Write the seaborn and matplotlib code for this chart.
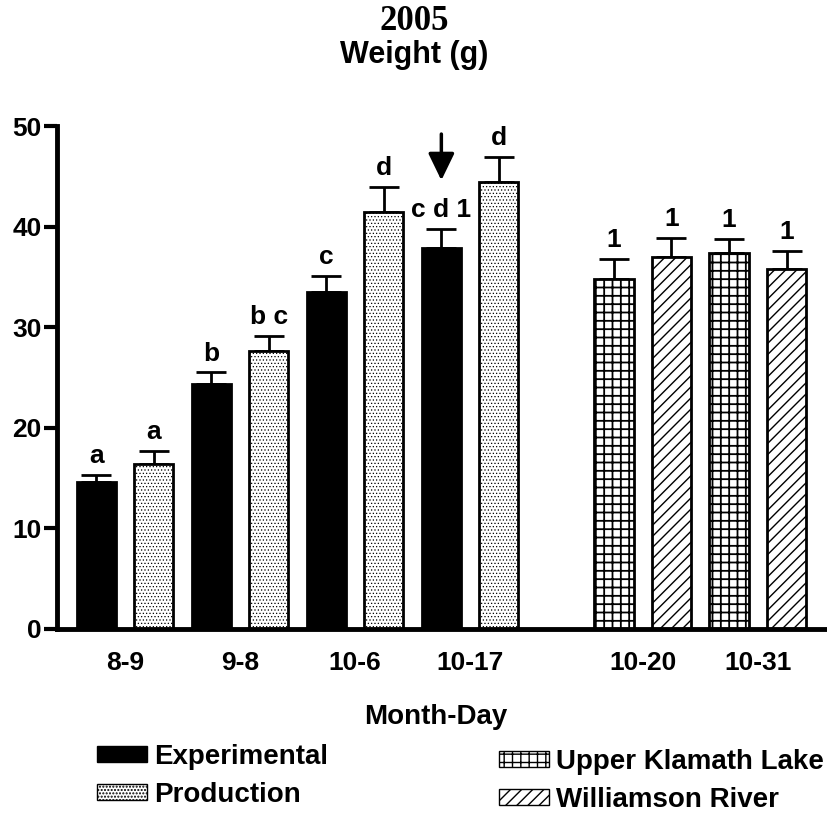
import numpy as np
import pandas as pd
import seaborn as sns
import matplotlib.pyplot as plt
import matplotlib.patches as mpatches

# bar data (mean weight in g and SE)
bar_date = ['8-9', '8-9', '9-8', '9-8', '10-6', '10-6', '10-17', '10-17',
            '10-20', '10-20', '10-31', '10-31']
bar_group = ['Experimental', 'Production'] * 4 + ['Upper Klamath Lake', 'Williamson River'] * 2
weight_mean = [14.6, 16.4, 24.4, 27.6, 33.5, 41.5, 37.9, 44.4, 34.8, 37.0, 37.4, 35.8]
weight_se = [0.7, 1.3, 1.1, 1.5, 1.6, 2.4, 1.9, 2.5, 2.0, 1.9, 1.4, 1.8]
sig_letters = ['a', 'a', 'b', 'b c', 'c', 'd', 'c d 1', 'd', '1', '1', '1', '1']
date_labels = ['8-9', '9-8', '10-6', '10-17', '10-20', '10-31']
y_ticks = [0, 10, 20, 30, 40, 50]

groups = ['Experimental', 'Production', 'Upper Klamath Lake', 'Williamson River']
face = {'Experimental': 'black', 'Production': 'white',
        'Upper Klamath Lake': 'white', 'Williamson River': 'white'}
hatch = {'Experimental': None, 'Production': '.....',
         'Upper Klamath Lake': '++', 'Williamson River': '///'}
hatch_lw = {'Experimental': 1.0, 'Production': 0.5,
            'Upper Klamath Lake': 1.3, 'Williamson River': 1.0}

# x positions: two bars per date, one empty gap of two slots before the river fish
pos = []
for i, d in enumerate(bar_date):
    k = date_labels.index(d)
    pos.append(i + (1 if k >= 4 else 0))

df = pd.DataFrame({'pos': pos, 'weight': weight_mean, 'se': weight_se,
                   'group': bar_group, 'date': bar_date, 'sig': sig_letters})

sns.set_style('ticks')
plt.rcParams['font.family'] = ['Liberation Sans', 'DejaVu Sans']
plt.rcParams['font.weight'] = 'bold'
plt.rcParams['text.color'] = 'black'
plt.rcParams['xtick.color'] = 'black'
plt.rcParams['ytick.color'] = 'black'
plt.rcParams['axes.edgecolor'] = 'black'

fig = plt.figure(figsize=(8.28, 8.15), dpi=100)
ax = fig.add_axes([57 / 828, (815 - 629) / 815, 1 - 57 / 828, (629 - 126) / 815])

sns.barplot(data=df, x='pos', y='weight', hue='group', hue_order=groups,
            palette=face, native_scale=True, dodge=False, width=0.68,
            edgecolor='black', linewidth=2, errorbar=None, legend=False, ax=ax)

# hatches per bar
for p in ax.patches:
    cx = p.get_x() + p.get_width() / 2
    row = df.iloc[(df['pos'] - cx).abs().argmin()]
    g = row['group']
    p.set_facecolor(face[g])
    p.set_edgecolor('black')
    if hatch[g]:
        p.set_hatch(hatch[g])
        if hasattr(p, 'set_hatch_linewidth'):
            p.set_hatch_linewidth(hatch_lw[g])
    p.set_zorder(2)

# upper-only error bars
ax.errorbar(df['pos'], df['weight'], yerr=[np.zeros(len(df)), df['se']],
            fmt='none', ecolor='black', elinewidth=2, capsize=11, capthick=2, zorder=1)

# significance letters
for _, r in df.iterrows():
    ax.annotate(r['sig'], (r['pos'], r['weight'] + r['se']), xytext=(0, 5),
                textcoords='offset points', ha='center', va='bottom',
                fontsize=19, fontweight='bold')

# arrow over experimental 10-17
xa = df.loc[(df['date'] == '10-17') & (df['group'] == 'Experimental'), 'pos'].iloc[0]
ax.annotate('', xy=(xa, 44.6), xytext=(xa, 49.2), annotation_clip=False,
            arrowprops=dict(arrowstyle='-|>,head_length=1.65,head_width=0.8',
                            mutation_scale=10, color='black', lw=2.5,
                            shrinkA=0, shrinkB=0))

ax.set_xlim(-0.68, 12.72)
ax.set_ylim(0, 50)
ax.set_yticks(y_ticks)
tick_pos = df.groupby('date', sort=False)['pos'].mean()
ax.set_xticks([tick_pos[d] for d in date_labels])
ax.set_xticklabels(date_labels)
ax.tick_params(axis='x', length=0, pad=16, labelsize=19)
ax.tick_params(axis='y', length=9.5, width=3, pad=1.5, labelsize=19)
for lab in ax.get_xticklabels() + ax.get_yticklabels():
    lab.set_fontweight('bold')
ax.set_xlabel('')
ax.set_ylabel('')
sns.despine(ax=ax)
ax.spines['left'].set_linewidth(3.5)
ax.spines['bottom'].set_linewidth(3.5)

fig.text(0.5, 1 - 22 / 815, '2005', ha='center', va='center', fontsize=25,
         fontweight='bold', family='Liberation Serif')
fig.text(0.5, 1 - 55 / 815, 'Weight (g)', ha='center', va='center', fontsize=22,
         fontweight='bold')
fig.text(436 / 828, 1 - 717 / 815, 'Month-Day', ha='center', va='center',
         fontsize=20, fontweight='bold')


def handle(g):
    return mpatches.Patch(facecolor=face[g], edgecolor='black', hatch=hatch[g], lw=1)


leg_kw = dict(loc='upper left', frameon=False, fontsize=20, handlelength=1.8,
              handleheight=0.5, handletextpad=0.25, labelspacing=0.42,
              borderpad=0, borderaxespad=0)
fig.legend([handle(g) for g in groups[:2]], groups[:2],
           bbox_to_anchor=(97 / 828, 1 - 744 / 815), **leg_kw)
fig.legend([handle(g) for g in groups[2:]], groups[2:],
           bbox_to_anchor=(499 / 828, 1 - 749 / 815), **leg_kw)

fig.savefig('out.png', dpi=100)
